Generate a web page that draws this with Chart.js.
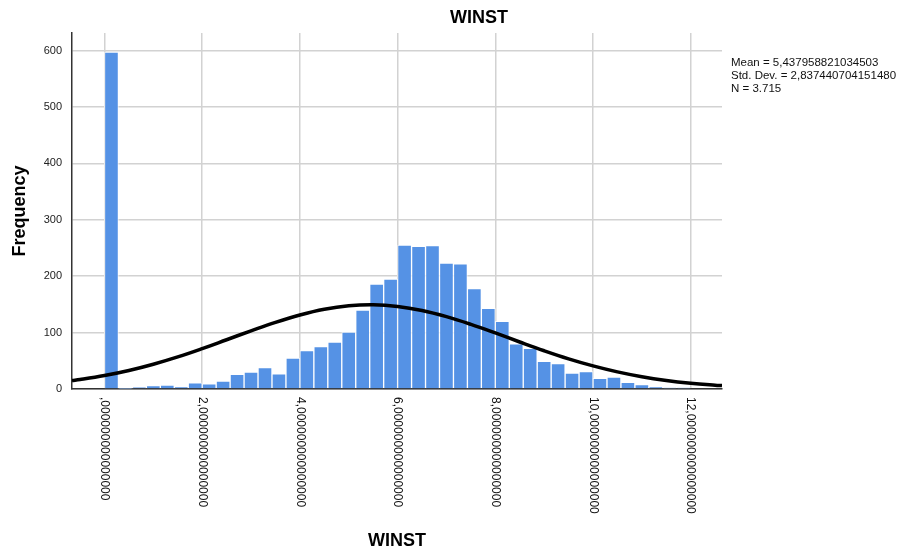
<!DOCTYPE html>
<html>
<head>
<meta charset="utf-8">
<style>
html,body{margin:0;padding:0;background:#ffffff;}
#wrap{width:911px;height:554px;position:relative;}
</style>
<script src="https://cdn.jsdelivr.net/npm/chart.js@4.4.1/dist/chart.umd.min.js"></script>
</head>
<body>
<div id="wrap"><canvas id="c" width="911" height="554"></canvas></div>
<script>
// ---- data ----
const chartTitle = 'WINST';
const xAxisTitle = 'WINST';
const yAxisTitle = 'Frequency';
const binWidth = 2 / 7;
const frequencies = [597, 1, 3, 6, 7, 4, 11, 9, 14, 26,
                     30, 38, 27, 55, 68, 75, 83, 101, 140, 186,
                     195, 255, 253, 254, 223, 222, 178, 143, 120, 80,
                     72, 49, 45, 28, 31, 19, 21, 12, 8, 4,
                     2, 2];
const curveX = [-0.665, -0.5, 0, 0.5, 1, 1.5, 2, 2.5, 3, 3.5, 4, 4.5, 5, 5.5, 6, 6.5, 7, 7.5, 8, 8.5, 9, 9.5, 10, 10.5, 11, 11.5, 12, 12.5, 12.64];
const curveY = [15, 16.7, 23.8, 32.8, 43.9, 56.9, 71.6, 87.3, 103.1, 118.2, 131.2, 141.3, 147.4, 149.2, 146.3, 139.1, 128.2, 114.6, 99.3, 83.3, 67.8, 53.5, 41.0, 30.4, 21.8, 15.2, 10.3, 6.7, 6.0];
const xTickValues = [0, 2, 4, 6, 8, 10, 12];
const xTickLabels = [',000000000000000', '2,000000000000000', '4,000000000000000', '6,000000000000000', '8,000000000000000', '10,000000000000000', '12,000000000000000'];
const yTickValues = [0, 100, 200, 300, 400, 500, 600];
const statsLines = ['Mean = 5,437958821034503', 'Std. Dev. = 2,837440704151480', 'N = 3.715'];

// ---- chart ----
const FONT = "'Liberation Sans', Arial, Helvetica, sans-serif";
const barPoints = frequencies.map((f, i) => ({ x: i * binWidth + binWidth / 2, y: f }));
const curvePoints = curveX.map((x, i) => ({ x: x, y: curveY[i] }));

const textPlugin = {
  id: 'texts',
  afterDraw(chart) {
    const ctx = chart.ctx;
    const xs = chart.scales.x;
    ctx.save();
    ctx.fillStyle = '#000';
    // main title
    ctx.font = 'bold 18px ' + FONT;
    ctx.textAlign = 'center';
    ctx.textBaseline = 'middle';
    ctx.fillText(chartTitle, 479, 18);
    // x axis title
    ctx.fillText(xAxisTitle, (chart.chartArea.left + chart.chartArea.right) / 2, 541);
    // y axis title
    ctx.save();
    ctx.translate(20, (chart.chartArea.top + chart.chartArea.bottom) / 2);
    ctx.rotate(-Math.PI / 2);
    ctx.fillText(yAxisTitle, 0, 0);
    ctx.restore();
    // x tick labels, rotated clockwise
    ctx.font = '12px ' + FONT;
    ctx.fillStyle = '#111';
    ctx.textAlign = 'left';
    ctx.textBaseline = 'middle';
    xTickValues.forEach((v, i) => {
      const px = xs.getPixelForValue(v);
      ctx.save();
      ctx.translate(px, chart.chartArea.bottom + 8);
      ctx.rotate(Math.PI / 2);
      ctx.fillText(xTickLabels[i], 0, 0);
      ctx.restore();
    });
    // stats box text
    ctx.font = '11.5px ' + FONT;
    ctx.textAlign = 'left';
    ctx.textBaseline = 'alphabetic';
    statsLines.forEach((t, i) => ctx.fillText(t, 731, 66 + i * 13));
    ctx.restore();
  }
};

new Chart(document.getElementById('c').getContext('2d'), {
  type: 'bar',
  data: {
    datasets: [
      {
        type: 'line',
        data: curvePoints,
        borderColor: '#000000',
        borderWidth: 3.5,
        pointRadius: 0,
        tension: 0.4,
        fill: false,
        order: 0
      },
      {
        type: 'bar',
        data: barPoints,
        backgroundColor: '#5592e5',
        borderColor: 'rgba(255,255,255,0.75)',
        borderWidth: 1,
        barPercentage: 1,
        categoryPercentage: 1,
        order: 1
      }
    ]
  },
  options: {
    responsive: false,
    animation: false,
    devicePixelRatio: 1,
    layout: { padding: { left: 0, right: 189, top: 33, bottom: 0 } },
    plugins: { legend: { display: false }, tooltip: { enabled: false }, title: { display: false } },
    scales: {
      x: {
        type: 'linear',
        min: -0.665,
        max: 12.64,
        offset: false,
        afterBuildTicks: (s) => { s.ticks = xTickValues.map(v => ({ value: v })); },
        afterFit: (s) => { s.height = 554 - 389; },
        ticks: { display: false },
        grid: { offset: false, color: '#d2d2d2', lineWidth: 1.5, drawTicks: false },
        border: { color: '#333333', width: 1.5 }
      },
      y: {
        min: 0,
        max: 631,
        afterBuildTicks: (s) => { s.ticks = yTickValues.map(v => ({ value: v })); },
        afterFit: (s) => { s.width = 72; },
        ticks: { font: { size: 11, family: FONT }, color: '#222222', padding: 10 },
        grid: { color: '#d2d2d2', lineWidth: 1.5, drawTicks: false },
        border: { color: '#333333', width: 1.5 }
      }
    }
  },
  plugins: [textPlugin]
});
</script>
</body>
</html>
